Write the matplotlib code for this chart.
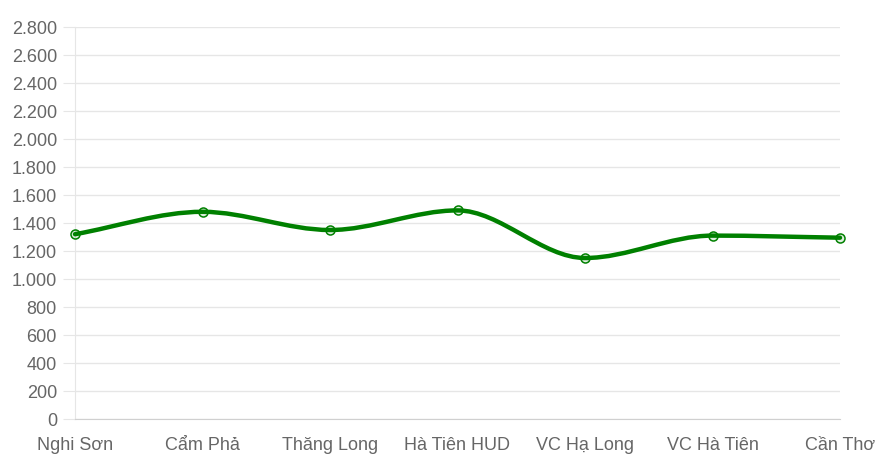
import numpy as np
import matplotlib
matplotlib.use('Agg')
import matplotlib.pyplot as plt
from matplotlib.path import Path
from matplotlib.patches import PathPatch

plt.rcParams['font.family'] = ['Liberation Sans', 'DejaVu Sans']

labels = ['Nghi Sơn', 'Cẩm Phả', 'Thăng Long', 'Hà Tiên HUD', 'VC Hạ Long', 'VC Hà Tiên', 'Cần Thơ']
values = [1320, 1480, 1350, 1490, 1150, 1310, 1295]
y_ticks = list(range(0, 2801, 200))

LINE_COLOR = '#008000'
GRID_COLOR = '#e6e6e6'
TEXT_COLOR = '#666666'


def fmt_dot(v):
    return f'{v:,.0f}'.replace(',', '.')


def monotone_path(xs, ys):
    # chart.js "monotone" cubic interpolation
    xs = np.asarray(xs, float)
    ys = np.asarray(ys, float)
    n = len(xs)
    delta = np.diff(ys) / np.diff(xs)
    m = np.zeros(n)
    m[0] = delta[0]
    m[-1] = delta[-1]
    for i in range(1, n - 1):
        if delta[i - 1] == 0 or delta[i] == 0 or np.sign(delta[i - 1]) != np.sign(delta[i]):
            m[i] = 0
        else:
            m[i] = (delta[i - 1] + delta[i]) / 2
    for i in range(n - 1):
        if delta[i] == 0:
            m[i] = m[i + 1] = 0
            continue
        a = m[i] / delta[i]
        b = m[i + 1] / delta[i]
        sq = a * a + b * b
        if sq > 9:
            tau = 3 / np.sqrt(sq)
            m[i] = a * tau * delta[i]
            m[i + 1] = b * tau * delta[i]
    verts = [(xs[0], ys[0])]
    codes = [Path.MOVETO]
    for i in range(n - 1):
        dx = (xs[i + 1] - xs[i]) / 3
        verts += [(xs[i] + dx, ys[i] + m[i] * dx),
                  (xs[i + 1] - dx, ys[i + 1] - m[i + 1] * dx),
                  (xs[i + 1], ys[i + 1])]
        codes += [Path.CURVE4] * 3
    return Path(verts, codes)


fig = plt.figure(figsize=(8.86, 4.69), dpi=100)
ax = fig.add_axes([75 / 886, 1 - 419 / 469, (840 - 75) / 886, (419 - 27) / 469])

x = np.arange(len(labels))
ax.set_xlim(0, len(labels) - 1)
ax.set_ylim(0, 2800)

ax.set_yticks(y_ticks)
ax.set_yticklabels([fmt_dot(v) for v in y_ticks])
ax.set_xticks(x)
ax.set_xticklabels(labels)

ax.grid(axis='y', color=GRID_COLOR, linewidth=1)
ax.set_axisbelow(True)
for s in ['top', 'right']:
    ax.spines[s].set_visible(False)
ax.spines['left'].set_color(GRID_COLOR)
ax.spines['bottom'].set_color('#d0d0d0')
ax.tick_params(axis='y', length=9, color=GRID_COLOR, pad=4, labelsize=13, labelcolor=TEXT_COLOR)
ax.tick_params(axis='x', length=0, pad=13, labelsize=13, labelcolor=TEXT_COLOR)

ax.add_patch(PathPatch(monotone_path(x, values), facecolor='none', edgecolor=LINE_COLOR,
                       linewidth=3.2, capstyle='round', joinstyle='round',
                       clip_on=False, zorder=3))
ax.plot(x, values, linestyle='none', marker='o', markersize=6.5,
        markerfacecolor=(0, 0.5, 0, 0.12), markeredgecolor=LINE_COLOR,
        markeredgewidth=1.1, clip_on=False, zorder=4)

fig.savefig('out.png', dpi=100)
